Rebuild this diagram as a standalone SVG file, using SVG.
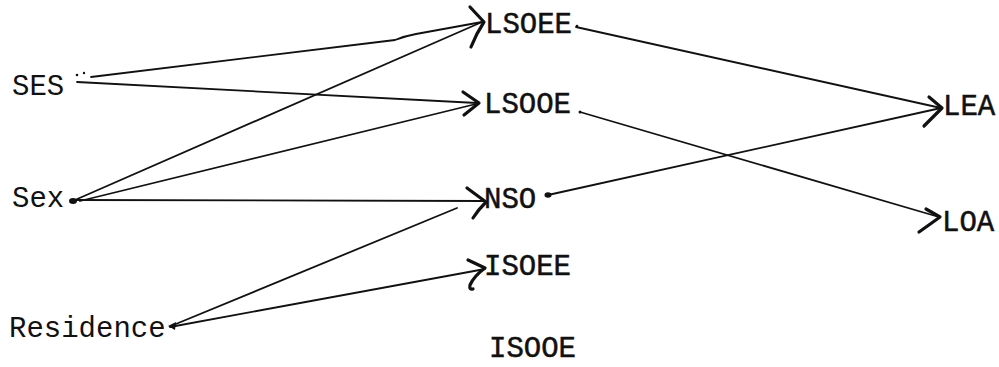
<svg xmlns="http://www.w3.org/2000/svg" width="999" height="367" viewBox="0 0 999 367">
<style>
.t{font-family:"Liberation Mono","Courier New",monospace;font-size:29px;fill:#111}
.r{stroke:#111;stroke-width:0.5}
.c line,.c path.l{stroke:#111;stroke-width:1.8;fill:none;stroke-linecap:round}
.ah{stroke:#111;stroke-width:3.2;fill:none;stroke-linecap:round;stroke-linejoin:round}
.d{fill:#111}
</style>
<rect width="999" height="367" fill="#fff"/>
<g class="c" id="connectors">
<path class="l" d="M91,77 L395,40 Q405,36 416,34 L482,22"/>
<line x1="77" y1="82" x2="477" y2="103"/>
<line x1="75" y1="200" x2="482" y2="22"/>
<line x1="80" y1="201" x2="476" y2="104"/>
<line x1="72" y1="200" x2="484" y2="201"/>
<line x1="171" y1="326" x2="457" y2="208"/>
<line x1="170" y1="327" x2="485" y2="269"/>
<line x1="576" y1="27" x2="941" y2="108"/>
<line x1="580" y1="112" x2="939" y2="217"/>
<line x1="548" y1="195" x2="941" y2="108"/>
<path class="ah" d="M470,7 L484,22 Q476,34 471,47"/>
<path class="ah" d="M463,92 L479,103 L464,115"/>
<path class="ah" d="M467,188 L486,202 Q478,210 473,218"/>
<path class="ah" d="M468,260 L485,268 Q474,276 470,285 Q469,290 473,289"/>
<path class="ah" d="M929,97 L942,108 Q932,118 924,126"/>
<path class="ah" d="M926,209 L940,217 Q929,225 919,232"/>
<ellipse class="d" cx="73" cy="201" rx="4" ry="3"/>
<ellipse class="d" cx="548" cy="195" rx="3.5" ry="2.8"/>
<circle class="d" cx="580" cy="112" r="1.5"/>
<circle class="d" cx="577" cy="26" r="1.3"/>
<circle class="d" cx="77" cy="75" r="1.3"/>
<circle class="d" cx="84" cy="73" r="1.2"/>
<path class="d" d="M168,326 L176,322 L175,330 Z"/>
</g>
<g id="SES"><text class="t" x="12" y="95">SES</text></g>
<g id="Sex"><text class="t" x="12" y="207">Sex</text></g>
<g id="Residence"><text class="t" x="9" y="337">Residence</text></g>
<g id="LSOEE"><text class="t r" x="485" y="33">LSOEE</text></g>
<g id="LSOOE"><text class="t r" x="484" y="113">LSOOE</text></g>
<g id="NSO"><text class="t r" x="484" y="208">NSO</text></g>
<g id="ISOEE"><text class="t r" x="484" y="275">ISOEE</text></g>
<g id="ISOOE"><text class="t r" x="489" y="357">ISOOE</text></g>
<g id="LEA"><text class="t r" x="943" y="115">LEA</text></g>
<g id="LOA"><text class="t r" x="942" y="231">LOA</text></g>
</svg>
